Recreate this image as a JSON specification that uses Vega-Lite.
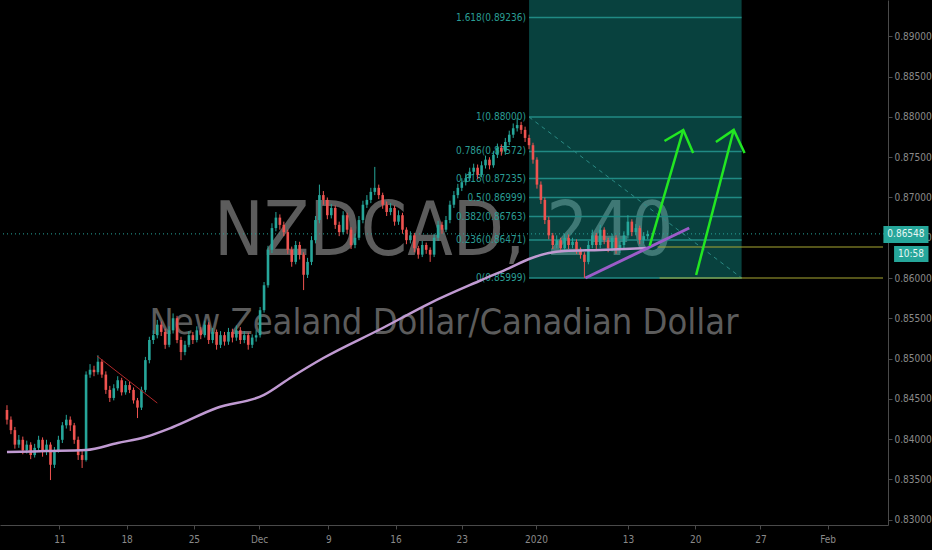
{
"$schema":"https://vega.github.io/schema/vega-lite/v6.json",
"width":888,"height":525,
"autosize":{"type":"none"},
"padding":{"left":0,"top":0,"right":44,"bottom":25},
"background":"#000000",
"resolve":{"axis":{"x":"independent","y":"independent"}},
"config":{"view":{"stroke":null},"font":"DejaVu Sans Condensed, Liberation Sans, sans-serif","axis":{"grid":false,"domainColor":"#4a4a4a","tickColor":"#4a4a4a","labelColor":"#8a8a8a","labelFont":"DejaVu Sans Condensed, Liberation Sans, sans-serif","labelFontSize":10}},
"datasets":{
"candles":[
{"t":0,"o":0.8436,"c":0.8424,"h":0.8442,"l":0.8418},
{"t":1,"o":0.8424,"c":0.8411,"h":0.8428,"l":0.8406},
{"t":2,"o":0.8411,"c":0.8393,"h":0.8415,"l":0.8388},
{"t":3,"o":0.8393,"c":0.8399,"h":0.8405,"l":0.8389},
{"t":4,"o":0.8399,"c":0.8386,"h":0.8403,"l":0.8381},
{"t":5,"o":0.8386,"c":0.8393,"h":0.8398,"l":0.8382},
{"t":6,"o":0.8393,"c":0.838,"h":0.8396,"l":0.8375},
{"t":7,"o":0.838,"c":0.8389,"h":0.8394,"l":0.8377},
{"t":8,"o":0.8389,"c":0.8399,"h":0.8404,"l":0.8386},
{"t":9,"o":0.8399,"c":0.8384,"h":0.8402,"l":0.8378},
{"t":10,"o":0.8384,"c":0.8393,"h":0.8399,"l":0.838},
{"t":11,"o":0.8393,"c":0.8368,"h":0.8396,"l":0.8349},
{"t":12,"o":0.8368,"c":0.8386,"h":0.839,"l":0.8364},
{"t":13,"o":0.8386,"c":0.8399,"h":0.8404,"l":0.8383},
{"t":14,"o":0.8399,"c":0.8417,"h":0.8421,"l":0.8395},
{"t":15,"o":0.8417,"c":0.8424,"h":0.843,"l":0.8413},
{"t":16,"o":0.8424,"c":0.8417,"h":0.8428,"l":0.841},
{"t":17,"o":0.8417,"c":0.8399,"h":0.842,"l":0.8394},
{"t":18,"o":0.8399,"c":0.838,"h":0.8403,"l":0.8374},
{"t":19,"o":0.838,"c":0.8374,"h":0.8385,"l":0.8364},
{"t":20,"o":0.8374,"c":0.848,"h":0.8484,"l":0.8372},
{"t":21,"o":0.848,"c":0.8486,"h":0.8493,"l":0.8476},
{"t":22,"o":0.8486,"c":0.8483,"h":0.8491,"l":0.8478},
{"t":23,"o":0.8483,"c":0.8496,"h":0.8504,"l":0.848},
{"t":24,"o":0.8496,"c":0.848,"h":0.8499,"l":0.8476},
{"t":25,"o":0.848,"c":0.8461,"h":0.8484,"l":0.8456},
{"t":26,"o":0.8461,"c":0.8451,"h":0.8466,"l":0.8446},
{"t":27,"o":0.8451,"c":0.8463,"h":0.8468,"l":0.8448},
{"t":28,"o":0.8463,"c":0.8473,"h":0.8478,"l":0.846},
{"t":29,"o":0.8473,"c":0.8458,"h":0.8476,"l":0.8454},
{"t":30,"o":0.8458,"c":0.8467,"h":0.8472,"l":0.8455},
{"t":31,"o":0.8467,"c":0.8461,"h":0.8471,"l":0.8457},
{"t":32,"o":0.8461,"c":0.8448,"h":0.8464,"l":0.8444},
{"t":33,"o":0.8448,"c":0.8439,"h":0.8451,"l":0.8426},
{"t":34,"o":0.8439,"c":0.8461,"h":0.8465,"l":0.8436},
{"t":35,"o":0.8461,"c":0.8498,"h":0.8502,"l":0.8458},
{"t":36,"o":0.8498,"c":0.8523,"h":0.8527,"l":0.8494},
{"t":37,"o":0.8523,"c":0.8529,"h":0.8535,"l":0.8518},
{"t":38,"o":0.8529,"c":0.8542,"h":0.8548,"l":0.8525},
{"t":39,"o":0.8542,"c":0.8533,"h":0.8546,"l":0.8528},
{"t":40,"o":0.8533,"c":0.8517,"h":0.8537,"l":0.8512},
{"t":41,"o":0.8517,"c":0.8535,"h":0.854,"l":0.8514},
{"t":42,"o":0.8535,"c":0.855,"h":0.8556,"l":0.8531},
{"t":43,"o":0.855,"c":0.8523,"h":0.8553,"l":0.8519},
{"t":44,"o":0.8523,"c":0.8508,"h":0.8527,"l":0.8498},
{"t":45,"o":0.8508,"c":0.8517,"h":0.8522,"l":0.8504},
{"t":46,"o":0.8517,"c":0.8529,"h":0.8534,"l":0.8514},
{"t":47,"o":0.8529,"c":0.8523,"h":0.8533,"l":0.8518},
{"t":48,"o":0.8523,"c":0.8535,"h":0.854,"l":0.852},
{"t":49,"o":0.8535,"c":0.8529,"h":0.8539,"l":0.8524},
{"t":50,"o":0.8529,"c":0.8542,"h":0.8547,"l":0.8526},
{"t":51,"o":0.8542,"c":0.8523,"h":0.8545,"l":0.8518},
{"t":52,"o":0.8523,"c":0.8533,"h":0.8538,"l":0.8519},
{"t":53,"o":0.8533,"c":0.8517,"h":0.8536,"l":0.8511},
{"t":54,"o":0.8517,"c":0.8529,"h":0.8534,"l":0.8513},
{"t":55,"o":0.8529,"c":0.8521,"h":0.8533,"l":0.8516},
{"t":56,"o":0.8521,"c":0.8533,"h":0.8538,"l":0.8517},
{"t":57,"o":0.8533,"c":0.8526,"h":0.8537,"l":0.852},
{"t":58,"o":0.8526,"c":0.8535,"h":0.8541,"l":0.8522},
{"t":59,"o":0.8535,"c":0.8523,"h":0.8539,"l":0.8518},
{"t":60,"o":0.8523,"c":0.8529,"h":0.8534,"l":0.8519},
{"t":61,"o":0.8529,"c":0.8517,"h":0.8532,"l":0.8511},
{"t":62,"o":0.8517,"c":0.8526,"h":0.853,"l":0.8513},
{"t":63,"o":0.8526,"c":0.8529,"h":0.8535,"l":0.8521},
{"t":64,"o":0.8529,"c":0.856,"h":0.8564,"l":0.8526},
{"t":65,"o":0.856,"c":0.8591,"h":0.8595,"l":0.8557},
{"t":66,"o":0.8591,"c":0.8635,"h":0.864,"l":0.8588},
{"t":67,"o":0.8635,"c":0.8662,"h":0.8668,"l":0.8631},
{"t":68,"o":0.8662,"c":0.8675,"h":0.8682,"l":0.8658},
{"t":69,"o":0.8675,"c":0.8666,"h":0.8679,"l":0.866},
{"t":70,"o":0.8666,"c":0.8657,"h":0.867,"l":0.8652},
{"t":71,"o":0.8657,"c":0.8635,"h":0.866,"l":0.863},
{"t":72,"o":0.8635,"c":0.862,"h":0.8639,"l":0.8614},
{"t":73,"o":0.862,"c":0.8641,"h":0.8646,"l":0.8617},
{"t":74,"o":0.8641,"c":0.8629,"h":0.8645,"l":0.8623},
{"t":75,"o":0.8629,"c":0.8604,"h":0.8632,"l":0.8585},
{"t":76,"o":0.8604,"c":0.862,"h":0.8625,"l":0.86},
{"t":77,"o":0.862,"c":0.8647,"h":0.8652,"l":0.8616},
{"t":78,"o":0.8647,"c":0.8672,"h":0.8677,"l":0.8643},
{"t":79,"o":0.8672,"c":0.8703,"h":0.8716,"l":0.8668},
{"t":80,"o":0.8703,"c":0.8697,"h":0.8708,"l":0.8691},
{"t":81,"o":0.8697,"c":0.8678,"h":0.87,"l":0.8673},
{"t":82,"o":0.8678,"c":0.8687,"h":0.8692,"l":0.8674},
{"t":83,"o":0.8687,"c":0.8666,"h":0.869,"l":0.8661},
{"t":84,"o":0.8666,"c":0.8657,"h":0.867,"l":0.8652},
{"t":85,"o":0.8657,"c":0.8678,"h":0.8683,"l":0.8654},
{"t":86,"o":0.8678,"c":0.866,"h":0.8681,"l":0.8655},
{"t":87,"o":0.866,"c":0.8641,"h":0.8663,"l":0.8636},
{"t":88,"o":0.8641,"c":0.865,"h":0.8655,"l":0.8637},
{"t":89,"o":0.865,"c":0.8672,"h":0.8677,"l":0.8647},
{"t":90,"o":0.8672,"c":0.8691,"h":0.8696,"l":0.8668},
{"t":91,"o":0.8691,"c":0.8697,"h":0.8703,"l":0.8687},
{"t":92,"o":0.8697,"c":0.8707,"h":0.8712,"l":0.8693},
{"t":93,"o":0.8707,"c":0.8712,"h":0.8738,"l":0.8703},
{"t":94,"o":0.8712,"c":0.8703,"h":0.8716,"l":0.8698},
{"t":95,"o":0.8703,"c":0.8691,"h":0.8706,"l":0.8686},
{"t":96,"o":0.8691,"c":0.8682,"h":0.8695,"l":0.8677},
{"t":97,"o":0.8682,"c":0.8687,"h":0.8693,"l":0.8678},
{"t":98,"o":0.8687,"c":0.867,"h":0.869,"l":0.8665},
{"t":99,"o":0.867,"c":0.8678,"h":0.8684,"l":0.8666},
{"t":100,"o":0.8678,"c":0.866,"h":0.8681,"l":0.8655},
{"t":101,"o":0.866,"c":0.8647,"h":0.8663,"l":0.8642},
{"t":102,"o":0.8647,"c":0.8653,"h":0.8658,"l":0.8643},
{"t":103,"o":0.8653,"c":0.8637,"h":0.8656,"l":0.8632},
{"t":104,"o":0.8637,"c":0.8629,"h":0.864,"l":0.8624},
{"t":105,"o":0.8629,"c":0.8641,"h":0.8646,"l":0.8626},
{"t":106,"o":0.8641,"c":0.8635,"h":0.8644,"l":0.863},
{"t":107,"o":0.8635,"c":0.8629,"h":0.8638,"l":0.862},
{"t":108,"o":0.8629,"c":0.865,"h":0.8655,"l":0.8626},
{"t":109,"o":0.865,"c":0.8666,"h":0.8671,"l":0.8646},
{"t":110,"o":0.8666,"c":0.866,"h":0.867,"l":0.8655},
{"t":111,"o":0.866,"c":0.8672,"h":0.8677,"l":0.8657},
{"t":112,"o":0.8672,"c":0.8691,"h":0.8696,"l":0.8668},
{"t":113,"o":0.8691,"c":0.8703,"h":0.8708,"l":0.8687},
{"t":114,"o":0.8703,"c":0.8712,"h":0.8717,"l":0.8699},
{"t":115,"o":0.8712,"c":0.8719,"h":0.8724,"l":0.8708},
{"t":116,"o":0.8719,"c":0.8724,"h":0.873,"l":0.8715},
{"t":117,"o":0.8724,"c":0.8732,"h":0.8737,"l":0.872},
{"t":118,"o":0.8732,"c":0.8737,"h":0.8742,"l":0.8728},
{"t":119,"o":0.8737,"c":0.8728,"h":0.8741,"l":0.8723},
{"t":120,"o":0.8728,"c":0.874,"h":0.8745,"l":0.8725},
{"t":121,"o":0.874,"c":0.8747,"h":0.8752,"l":0.8736},
{"t":122,"o":0.8747,"c":0.874,"h":0.875,"l":0.8735},
{"t":123,"o":0.874,"c":0.8753,"h":0.8758,"l":0.8737},
{"t":124,"o":0.8753,"c":0.8762,"h":0.8767,"l":0.8749},
{"t":125,"o":0.8762,"c":0.8757,"h":0.8766,"l":0.8752},
{"t":126,"o":0.8757,"c":0.8769,"h":0.8774,"l":0.8753},
{"t":127,"o":0.8769,"c":0.8778,"h":0.8783,"l":0.8765},
{"t":128,"o":0.8778,"c":0.8786,"h":0.8792,"l":0.8774},
{"t":129,"o":0.8786,"c":0.879,"h":0.8799,"l":0.8782},
{"t":130,"o":0.879,"c":0.8784,"h":0.8794,"l":0.8779},
{"t":131,"o":0.8784,"c":0.8774,"h":0.8788,"l":0.8769},
{"t":132,"o":0.8774,"c":0.8765,"h":0.8778,"l":0.876},
{"t":133,"o":0.8765,"c":0.8747,"h":0.8768,"l":0.8742},
{"t":134,"o":0.8747,"c":0.8716,"h":0.875,"l":0.8711},
{"t":135,"o":0.8716,"c":0.8697,"h":0.872,"l":0.8692},
{"t":136,"o":0.8697,"c":0.8672,"h":0.87,"l":0.8667},
{"t":137,"o":0.8672,"c":0.8653,"h":0.8676,"l":0.8648},
{"t":138,"o":0.8653,"c":0.8641,"h":0.8656,"l":0.8636},
{"t":139,"o":0.8641,"c":0.8647,"h":0.8653,"l":0.8637},
{"t":140,"o":0.8647,"c":0.8637,"h":0.865,"l":0.8632},
{"t":141,"o":0.8637,"c":0.865,"h":0.8655,"l":0.8633},
{"t":142,"o":0.865,"c":0.8641,"h":0.8654,"l":0.8636},
{"t":143,"o":0.8641,"c":0.8645,"h":0.865,"l":0.8637},
{"t":144,"o":0.8645,"c":0.8635,"h":0.8648,"l":0.863},
{"t":145,"o":0.8635,"c":0.8629,"h":0.8638,"l":0.8624},
{"t":146,"o":0.8629,"c":0.862,"h":0.8632,"l":0.86},
{"t":147,"o":0.862,"c":0.8641,"h":0.8646,"l":0.8617},
{"t":148,"o":0.8641,"c":0.8653,"h":0.866,"l":0.8637},
{"t":149,"o":0.8653,"c":0.8641,"h":0.8656,"l":0.8636},
{"t":150,"o":0.8641,"c":0.866,"h":0.8666,"l":0.8637},
{"t":151,"o":0.866,"c":0.8647,"h":0.8663,"l":0.8642},
{"t":152,"o":0.8647,"c":0.8637,"h":0.865,"l":0.8632},
{"t":153,"o":0.8637,"c":0.865,"h":0.8655,"l":0.8633},
{"t":154,"o":0.865,"c":0.8635,"h":0.8653,"l":0.863},
{"t":155,"o":0.8635,"c":0.8641,"h":0.8646,"l":0.8631},
{"t":156,"o":0.8641,"c":0.8653,"h":0.8658,"l":0.8637},
{"t":157,"o":0.8653,"c":0.867,"h":0.8678,"l":0.8649},
{"t":158,"o":0.867,"c":0.8657,"h":0.8673,"l":0.8652},
{"t":159,"o":0.8657,"c":0.8662,"h":0.8667,"l":0.8653},
{"t":160,"o":0.8662,"c":0.8647,"h":0.8665,"l":0.8642},
{"t":161,"o":0.8647,"c":0.8652,"h":0.8657,"l":0.8643},
{"t":162,"o":0.8652,"c":0.86548,"h":0.8659,"l":0.8648}
],
"ma":[
{"t":0,"p":0.83838},{"t":10,"p":0.8385},{"t":20,"p":0.83863},{"t":28,"p":0.8395},{"t":35,"p":0.84025},{"t":42,"p":0.84149},{"t":53,"p":0.84385},{"t":65,"p":0.84547},{"t":72,"p":0.8477},{"t":80,"p":0.85006},{"t":95,"p":0.85379},{"t":107,"p":0.85689},{"t":120,"p":0.85975},{"t":127,"p":0.86124},{"t":132,"p":0.86236},{"t":137,"p":0.86311},{"t":141,"p":0.86335},{"t":150,"p":0.86348},{"t":162,"p":0.86373}
],
"fib":[
{"p":0.89236,"lab":"1.618(0.89236)"},{"p":0.88,"lab":"1(0.88000)"},{"p":0.87572,"lab":"0.786(0.87572)"},{"p":0.87235,"lab":"0.618(0.87235)"},{"p":0.86999,"lab":"0.5(0.86999)"},{"p":0.86763,"lab":"0.382(0.86763)"},{"p":0.86471,"lab":"0.236(0.86471)"},{"p":0.85999,"lab":"0(0.85999)"}
],
"draw":[
{"g":"red","s":"r","k":0,"t":22.75,"p":0.85031},{"g":"red","s":"r","k":1,"t":38,"p":0.84447},
{"g":"diag","s":"d","k":0,"t":132,"p":0.88},{"g":"diag","s":"d","k":1,"t":185.75,"p":0.86},
{"g":"yellow","s":"y1","k":0,"t":164.5,"p":0.86385},{"g":"yellow","s":"y1","k":1,"t":221.5,"p":0.86385},
{"g":"yellow","s":"y2","k":0,"t":165,"p":0.86},{"g":"yellow","s":"y2","k":1,"t":221.5,"p":0.86},
{"g":"purple","s":"pu","k":0,"t":146.25,"p":0.86},{"g":"purple","s":"pu","k":1,"t":172.5,"p":0.86621},
{"g":"green","s":"a1","k":0,"t":162.5,"p":0.86398},{"g":"green","s":"a1","k":1,"t":171,"p":0.87839},
{"g":"green","s":"a1h","k":0,"t":166.25,"p":0.87702},{"g":"green","s":"a1h","k":1,"t":171,"p":0.87839},{"g":"green","s":"a1h","k":2,"t":173.5,"p":0.87553},
{"g":"green","s":"a2","k":0,"t":174.25,"p":0.86037},{"g":"green","s":"a2","k":1,"t":183.75,"p":0.87839},
{"g":"green","s":"a2h","k":0,"t":179.25,"p":0.87689},{"g":"green","s":"a2h","k":1,"t":183.75,"p":0.87839},{"g":"green","s":"a2h","k":2,"t":186.5,"p":0.87553}
]
},
"layer":[
{"data":{"values":[{"t":110.4,"p":0.86286,"txt":"NZDCAD, 240"}]},
 "mark":{"type":"text","fontSize":74,"align":"center","baseline":"alphabetic","color":"#5c5c5c"},
 "encoding":{"x":{"field":"t","type":"quantitative","title":null,"scale":{"domain":[-0.5,221.5],"nice":false,"zero":false},
   "axis":{"orient":"bottom","title":null,"values":[13.25,30.25,47.25,63.75,81.25,98.25,115,133.75,157,174,190.5,207.5],"labelExpr":"['11','18','25','Dec','9','16','23','2020','13','20','27','Feb'][indexof([13.25,30.25,47.25,63.75,81.25,98.25,115,133.75,157,174,190.5,207.5], datum.value)]","tickSize":4,"labelPadding":5,"labelOverlap":false}},
  "y":{"field":"p","type":"quantitative","title":null,"scale":{"domain":[0.829317,0.894534],"nice":false,"zero":false},
   "axis":{"orient":"right","title":null,"values":[0.83,0.835,0.84,0.845,0.85,0.855,0.86,0.865,0.87,0.875,0.88,0.885,0.89],"format":".5f","tickSize":4,"labelPadding":2}},
  "text":{"field":"txt"}}},
{"data":{"values":[{"t":110.5,"p":0.85304,"txt":"New Zealand Dollar/Canadian Dollar"}]},
 "mark":{"type":"text","fontSize":36,"align":"center","baseline":"alphabetic","color":"#5c5c5c"},
 "encoding":{"x":{"field":"t","type":"quantitative","title":null,"axis":null,"scale":{"domain":[-0.5,221.5],"nice":false,"zero":false}},
  "y":{"field":"p","type":"quantitative","title":null,"axis":null,"scale":{"domain":[0.829317,0.894534],"nice":false,"zero":false}},
  "text":{"field":"txt"}}},
{"data":{"values":[{"t":132,"t2":185.75,"p":0.85999,"p2":0.89453}]},
 "mark":{"type":"rect","color":"#13a39b","opacity":0.4},
 "encoding":{"x":{"field":"t","type":"quantitative","title":null,"axis":null,"scale":{"domain":[-0.5,221.5],"nice":false,"zero":false}},"x2":{"field":"t2"},
  "y":{"field":"p","type":"quantitative","title":null,"axis":null,"scale":{"domain":[0.829317,0.894534],"nice":false,"zero":false}},"y2":{"field":"p2"}}},
{"data":{"name":"fib"},
 "mark":{"type":"rule","color":"#208a84","strokeWidth":1.5},
 "encoding":{"x":{"datum":132,"type":"quantitative","title":null,"axis":null,"scale":{"domain":[-0.5,221.5],"nice":false,"zero":false}},"x2":{"datum":185.75},
  "y":{"field":"p","type":"quantitative","title":null,"axis":null,"scale":{"domain":[0.829317,0.894534],"nice":false,"zero":false}}}},
{"data":{"name":"fib"},
 "mark":{"type":"text","color":"#2a9d94","fontSize":10,"align":"right","baseline":"middle","dx":-3},
 "encoding":{"x":{"datum":132,"type":"quantitative","title":null,"axis":null,"scale":{"domain":[-0.5,221.5],"nice":false,"zero":false}},
  "y":{"field":"p","type":"quantitative","title":null,"axis":null,"scale":{"domain":[0.829317,0.894534],"nice":false,"zero":false}},
  "text":{"field":"lab"}}},
{"data":{"values":[{"p":0.86548}]},
 "mark":{"type":"rule","color":"#26a69a","strokeWidth":1,"strokeDash":[1,3]},
 "encoding":{"y":{"field":"p","type":"quantitative","title":null,"axis":null,"scale":{"domain":[0.829317,0.894534],"nice":false,"zero":false}}}},
{"data":{"name":"candles"},
 "mark":{"type":"rule","strokeWidth":1},
 "encoding":{"x":{"field":"t","type":"quantitative","title":null,"axis":null,"scale":{"domain":[-0.5,221.5],"nice":false,"zero":false}},
  "y":{"field":"l","type":"quantitative","title":null,"axis":null,"scale":{"domain":[0.829317,0.894534],"nice":false,"zero":false}},"y2":{"field":"h"},
  "color":{"condition":{"test":"datum.c >= datum.o","value":"#26a69a"},"value":"#ef5350"}}},
{"data":{"name":"candles"},
 "mark":{"type":"bar","size":2.6},
 "encoding":{"x":{"field":"t","type":"quantitative","title":null,"axis":null,"scale":{"domain":[-0.5,221.5],"nice":false,"zero":false}},
  "y":{"field":"o","type":"quantitative","title":null,"axis":null,"scale":{"domain":[0.829317,0.894534],"nice":false,"zero":false}},"y2":{"field":"c"},
  "color":{"condition":{"test":"datum.c >= datum.o","value":"#26a69a"},"value":"#ef5350"}}},
{"data":{"name":"ma"},
 "mark":{"type":"line","color":"#c09ad2","strokeWidth":2.5,"interpolate":"monotone"},
 "encoding":{"x":{"field":"t","type":"quantitative","title":null,"axis":null,"scale":{"domain":[-0.5,221.5],"nice":false,"zero":false}},
  "y":{"field":"p","type":"quantitative","title":null,"axis":null,"scale":{"domain":[0.829317,0.894534],"nice":false,"zero":false}}}},
{"data":{"name":"draw"},"transform":[{"filter":"datum.g == 'diag'"}],
 "mark":{"type":"line","color":"#2a8a84","strokeWidth":1,"strokeDash":[4,4]},
 "encoding":{"x":{"field":"t","type":"quantitative","title":null,"axis":null,"scale":{"domain":[-0.5,221.5],"nice":false,"zero":false}},
  "y":{"field":"p","type":"quantitative","title":null,"axis":null,"scale":{"domain":[0.829317,0.894534],"nice":false,"zero":false}},"detail":{"field":"s"},"order":{"field":"k"}}},
{"data":{"name":"draw"},"transform":[{"filter":"datum.g == 'red'"}],
 "mark":{"type":"line","color":"#b0282a","strokeWidth":1},
 "encoding":{"x":{"field":"t","type":"quantitative","title":null,"axis":null,"scale":{"domain":[-0.5,221.5],"nice":false,"zero":false}},
  "y":{"field":"p","type":"quantitative","title":null,"axis":null,"scale":{"domain":[0.829317,0.894534],"nice":false,"zero":false}},"detail":{"field":"s"},"order":{"field":"k"}}},
{"data":{"name":"draw"},"transform":[{"filter":"datum.g == 'yellow'"}],
 "mark":{"type":"line","color":"#a8a832","strokeWidth":1.2},
 "encoding":{"x":{"field":"t","type":"quantitative","title":null,"axis":null,"scale":{"domain":[-0.5,221.5],"nice":false,"zero":false}},
  "y":{"field":"p","type":"quantitative","title":null,"axis":null,"scale":{"domain":[0.829317,0.894534],"nice":false,"zero":false}},"detail":{"field":"s"},"order":{"field":"k"}}},
{"data":{"name":"draw"},"transform":[{"filter":"datum.g == 'purple'"}],
 "mark":{"type":"line","color":"#9b5cc8","strokeWidth":3},
 "encoding":{"x":{"field":"t","type":"quantitative","title":null,"axis":null,"scale":{"domain":[-0.5,221.5],"nice":false,"zero":false}},
  "y":{"field":"p","type":"quantitative","title":null,"axis":null,"scale":{"domain":[0.829317,0.894534],"nice":false,"zero":false}},"detail":{"field":"s"},"order":{"field":"k"}}},
{"data":{"name":"draw"},"transform":[{"filter":"datum.g == 'green'"}],
 "mark":{"type":"line","color":"#22e622","strokeWidth":2.5},
 "encoding":{"x":{"field":"t","type":"quantitative","title":null,"axis":null,"scale":{"domain":[-0.5,221.5],"nice":false,"zero":false}},
  "y":{"field":"p","type":"quantitative","title":null,"axis":null,"scale":{"domain":[0.829317,0.894534],"nice":false,"zero":false}},"detail":{"field":"s"},"order":{"field":"k"}}},
{"data":{"values":[{"t":221.6,"t2":233,"p":0.86435,"p2":0.86646},{"t":224.3,"t2":233,"p":0.86199,"p2":0.86398}]},
 "mark":{"type":"rect","color":"#26a69a"},
 "encoding":{"x":{"field":"t","type":"quantitative","title":null,"axis":null,"scale":{"domain":[-0.5,221.5],"nice":false,"zero":false}},"x2":{"field":"t2"},
  "y":{"field":"p","type":"quantitative","title":null,"axis":null,"scale":{"domain":[0.829317,0.894534],"nice":false,"zero":false}},"y2":{"field":"p2"}}},
{"data":{"values":[{"t":227.3,"p":0.86541,"txt":"0.86548"},{"t":228.6,"p":0.86299,"txt":"10:58"}]},
 "mark":{"type":"text","color":"#e6f7f4","fontSize":10,"align":"center","baseline":"middle"},
 "encoding":{"x":{"field":"t","type":"quantitative","title":null,"axis":null,"scale":{"domain":[-0.5,221.5],"nice":false,"zero":false}},
  "y":{"field":"p","type":"quantitative","title":null,"axis":null,"scale":{"domain":[0.829317,0.894534],"nice":false,"zero":false}},
  "text":{"field":"txt"}}}
]
}
